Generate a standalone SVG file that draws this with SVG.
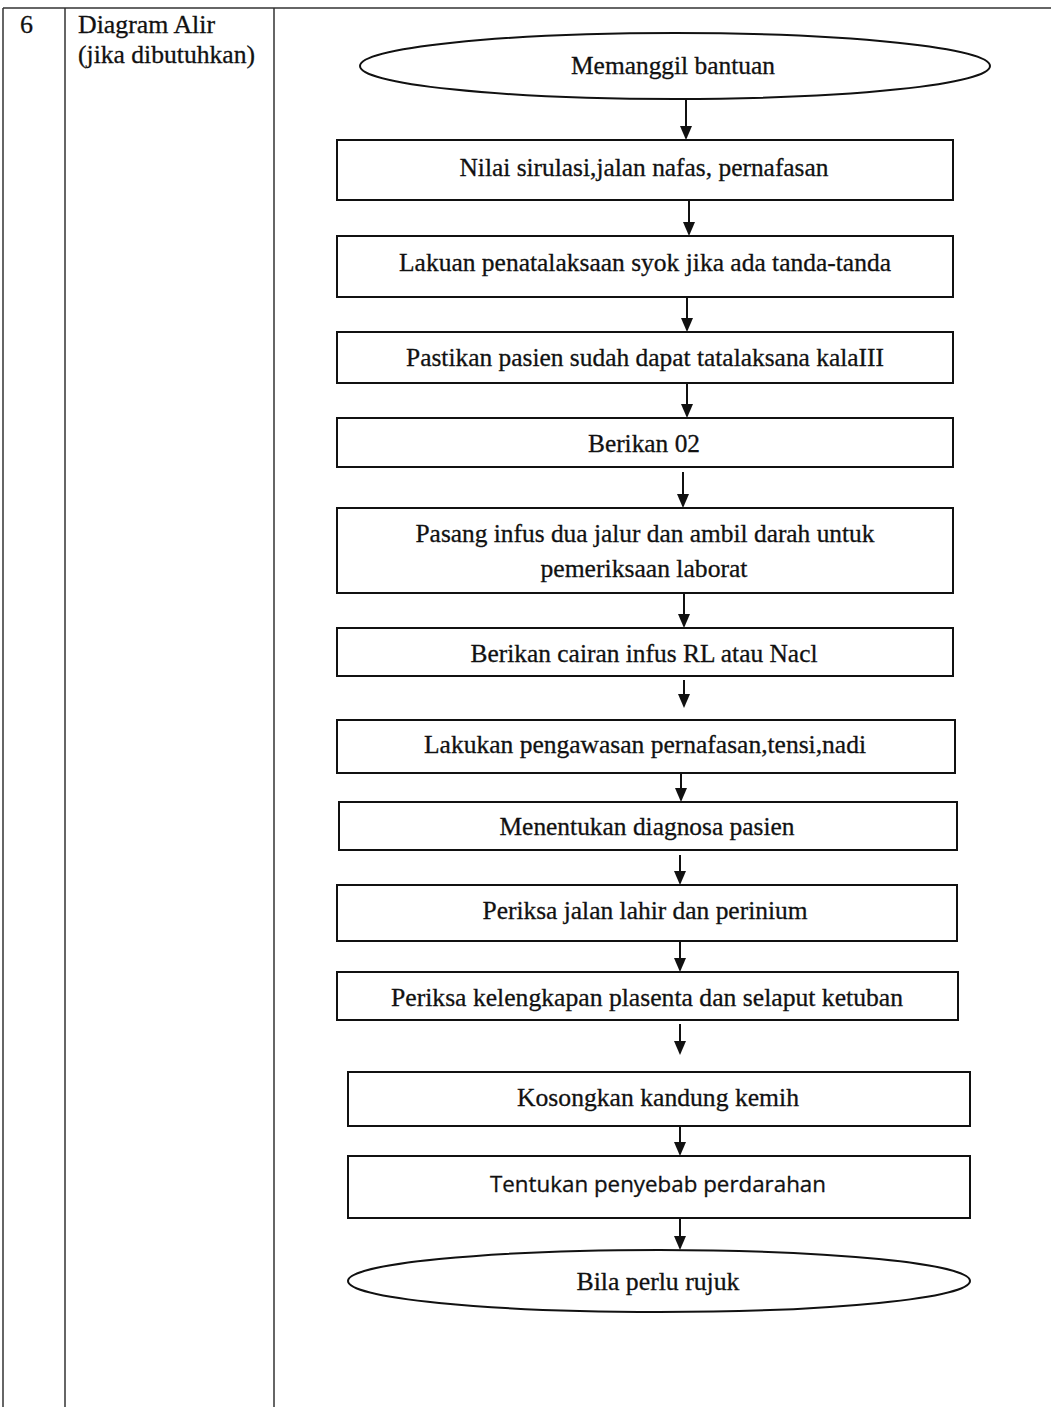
<svg xmlns="http://www.w3.org/2000/svg" width="1051" height="1407" viewBox="0 0 1051 1407">
<style>
.t{font-family:"Liberation Serif","Times New Roman",serif;font-size:26px;fill:#111;stroke:#111;stroke-width:0.3;}
.s{font-family:"Open Sans","Liberation Sans",sans-serif;font-size:22px;fill:#111;stroke:#111;stroke-width:0.3;}
.c{text-anchor:middle;dominant-baseline:central;}
.b{fill:#fff;stroke:#111;stroke-width:2;}
.g{stroke:#333;stroke-width:1.5;fill:none;}
.e{stroke:#111;stroke-width:2;fill:none;}
.h{fill:#111;stroke:none;}
</style>
<rect width="1051" height="1407" fill="#fff"/>
<g id="table">
<line class="g" x1="3" y1="8" x2="1051" y2="8"/>
<line class="g" x1="3" y1="8" x2="3" y2="1407"/>
<line class="g" x1="65" y1="8" x2="65" y2="1407"/>
<line class="g" x1="274" y1="8" x2="274" y2="1407"/>
<text class="t" x="20" y="33">6</text>
<text class="t" x="78" y="33" textLength="137" lengthAdjust="spacingAndGlyphs">Diagram Alir</text>
<text class="t" x="78" y="63" textLength="177" lengthAdjust="spacingAndGlyphs">(jika dibutuhkan)</text>
</g>
<g id="connectors">
<line class="e" x1="686" y1="100" x2="686" y2="128"/><polygon class="h" points="680,126 692,126 686,140"/>
<line class="e" x1="689" y1="200" x2="689" y2="224"/><polygon class="h" points="683,222 695,222 689,236"/>
<line class="e" x1="687" y1="297" x2="687" y2="320"/><polygon class="h" points="681,318 693,318 687,332"/>
<line class="e" x1="687" y1="383" x2="687" y2="406"/><polygon class="h" points="681,404 693,404 687,418"/>
<line class="e" x1="683" y1="472" x2="683" y2="496"/><polygon class="h" points="677,494 689,494 683,508"/>
<line class="e" x1="684" y1="593" x2="684" y2="616"/><polygon class="h" points="678,614 690,614 684,628"/>
<line class="e" x1="684" y1="680" x2="684" y2="696"/><polygon class="h" points="678,694 690,694 684,708"/>
<line class="e" x1="681" y1="773" x2="681" y2="790"/><polygon class="h" points="675,788 687,788 681,802"/>
<line class="e" x1="680" y1="855" x2="680" y2="873"/><polygon class="h" points="674,871 686,871 680,885"/>
<line class="e" x1="680" y1="941" x2="680" y2="960"/><polygon class="h" points="674,958 686,958 680,972"/>
<line class="e" x1="680" y1="1024" x2="680" y2="1043"/><polygon class="h" points="674,1041 686,1041 680,1055"/>
<line class="e" x1="680" y1="1126" x2="680" y2="1144"/><polygon class="h" points="674,1142 686,1142 680,1156"/>
<line class="e" x1="680" y1="1218" x2="680" y2="1238"/><polygon class="h" points="674,1236 686,1236 680,1250"/>
</g>
<g id="n0"><ellipse class="b" cx="675" cy="66" rx="315" ry="33"/><text class="t c" x="673" y="65" textLength="204" lengthAdjust="spacingAndGlyphs">Memanggil bantuan</text></g>
<g id="n1"><rect class="b" x="337" y="140" width="616" height="60"/><text class="t c" x="644" y="167" textLength="369" lengthAdjust="spacingAndGlyphs">Nilai sirulasi,jalan nafas, pernafasan</text></g>
<g id="n2"><rect class="b" x="337" y="236" width="616" height="61"/><text class="t c" x="645" y="262" textLength="492" lengthAdjust="spacingAndGlyphs">Lakuan penatalaksaan syok jika ada tanda-tanda</text></g>
<g id="n3"><rect class="b" x="337" y="332" width="616" height="51"/><text class="t c" x="645" y="357" textLength="478" lengthAdjust="spacingAndGlyphs">Pastikan pasien sudah dapat tatalaksana kalaIII</text></g>
<g id="n4"><rect class="b" x="337" y="418" width="616" height="49"/><text class="t c" x="644" y="443" textLength="112" lengthAdjust="spacingAndGlyphs">Berikan 02</text></g>
<g id="n5"><rect class="b" x="337" y="508" width="616" height="85"/><text class="t c" x="645" y="533" textLength="459" lengthAdjust="spacingAndGlyphs">Pasang infus dua jalur dan ambil darah untuk</text><text class="t c" x="644" y="568" textLength="207" lengthAdjust="spacingAndGlyphs">pemeriksaan laborat</text></g>
<g id="n6"><rect class="b" x="337" y="628" width="616" height="48"/><text class="t c" x="644" y="653" textLength="347" lengthAdjust="spacingAndGlyphs">Berikan cairan infus RL atau Nacl</text></g>
<g id="n7"><rect class="b" x="337" y="720" width="618" height="53"/><text class="t c" x="645" y="744" textLength="442" lengthAdjust="spacingAndGlyphs">Lakukan pengawasan pernafasan,tensi,nadi</text></g>
<g id="n8"><rect class="b" x="339" y="802" width="618" height="48"/><text class="t c" x="647" y="826" textLength="295" lengthAdjust="spacingAndGlyphs">Menentukan diagnosa pasien</text></g>
<g id="n9"><rect class="b" x="337" y="885" width="620" height="56"/><text class="t c" x="645" y="910" textLength="325" lengthAdjust="spacingAndGlyphs">Periksa jalan lahir dan perinium</text></g>
<g id="n10"><rect class="b" x="337" y="972" width="621" height="48"/><text class="t c" x="647" y="997" textLength="512" lengthAdjust="spacingAndGlyphs">Periksa kelengkapan plasenta dan selaput ketuban</text></g>
<g id="n11"><rect class="b" x="348" y="1072" width="622" height="54"/><text class="t c" x="658" y="1097" textLength="282" lengthAdjust="spacingAndGlyphs">Kosongkan kandung kemih</text></g>
<g id="n12"><rect class="b" x="348" y="1156" width="622" height="62"/><text class="s c" x="658" y="1183" textLength="336" lengthAdjust="spacingAndGlyphs">Tentukan penyebab perdarahan</text></g>
<g id="n13"><ellipse class="b" cx="659" cy="1281" rx="311" ry="31"/><text class="t c" x="658" y="1281" textLength="163" lengthAdjust="spacingAndGlyphs">Bila perlu rujuk</text></g>
</svg>
